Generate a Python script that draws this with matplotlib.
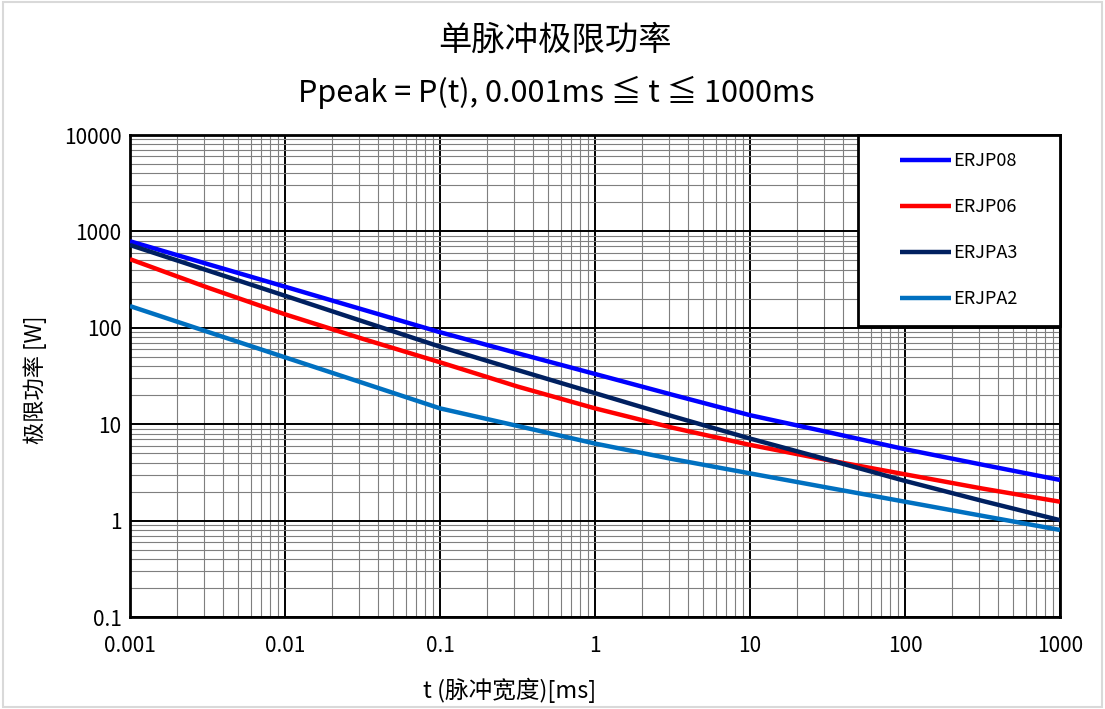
import matplotlib
matplotlib.use("Agg")
import matplotlib.pyplot as plt
from matplotlib.patches import Rectangle
from matplotlib.ticker import LogLocator, FixedLocator, FixedFormatter, NullFormatter

plt.rcParams['font.family'] = ['Noto Sans CJK SC', 'DejaVu Sans']

# pulse width [ms]
t_ms = [0.001, 0.00316, 0.01, 0.0316, 0.1, 0.316, 1, 3.16, 10, 31.6, 100, 316, 1000]

# peak power [W]
erjp08 = [790, 459, 267, 155, 90, 54.5, 33.2, 20.2, 12.4, 8.3, 5.5, 3.8, 2.64]
erjp06 = [515, 262, 138, 77, 43.9, 24.6, 14.6, 9.2, 6.1, 4.25, 3.02, 2.15, 1.57]
erjpa3 = [722, 394, 215, 117, 63.7, 36.5, 21.0, 12.1, 7.1, 4.3, 2.58, 1.6, 1.01]
erjpa2 = [168, 91, 49.4, 26.9, 14.6, 9.6, 6.3, 4.35, 3.09, 2.2, 1.57, 1.12, 0.80]

series_names = ['ERJP08', 'ERJP06', 'ERJPA3', 'ERJPA2']
series_colors = ['#0000FF', '#FF0000', '#002060', '#0070C0']

x_ticks = [0.001, 0.01, 0.1, 1, 10, 100, 1000]
x_labels = ['0.001', '0.01', '0.1', '1', '10', '100', '1000']
y_ticks = [0.1, 1, 10, 100, 1000, 10000]
y_labels = ['0.1', '1', '10', '100', '1000', '10000']

fig = plt.figure(figsize=(11.05, 7.09), dpi=100)
fig.patch.set_facecolor('white')
fig.add_artist(Rectangle((0.003, 0.003), 0.994, 0.994, transform=fig.transFigure,
                         fill=False, edgecolor='#d9d9d9', linewidth=1.5))

ax = fig.add_axes([130 / 1105, 1 - 617 / 709, 930 / 1105, 482 / 709])
ax.set_xscale('log')
ax.set_yscale('log')
ax.set_xlim(0.001, 1000)
ax.set_ylim(0.1, 10000)

for vals, name, col in zip([erjp08, erjp06, erjpa3, erjpa2], series_names, series_colors):
    ax.plot(t_ms, vals, color=col, linewidth=3.2, label=name, zorder=3,
            solid_capstyle='butt')

ax.xaxis.set_major_locator(FixedLocator(x_ticks))
ax.xaxis.set_major_formatter(FixedFormatter(x_labels))
ax.yaxis.set_major_locator(FixedLocator(y_ticks))
ax.yaxis.set_major_formatter(FixedFormatter(y_labels))
ax.xaxis.set_minor_locator(LogLocator(base=10, subs=range(2, 10), numticks=20))
ax.yaxis.set_minor_locator(LogLocator(base=10, subs=range(2, 10), numticks=20))
ax.xaxis.set_minor_formatter(NullFormatter())
ax.yaxis.set_minor_formatter(NullFormatter())

ax.grid(which='major', color='black', linewidth=1.4, zorder=1)
ax.grid(which='minor', color='#7f7f7f', linewidth=0.8, zorder=1)
ax.set_axisbelow(True)
ax.tick_params(which='both', length=0)
ax.tick_params(axis='x', labelsize=15, pad=13)
ax.tick_params(axis='y', labelsize=15, pad=6)
for sp in ax.spines.values():
    sp.set_linewidth(2)
    sp.set_color('black')

# legend box
ax.add_patch(Rectangle((0.783, 0.604), 0.217, 0.396, transform=ax.transAxes,
                       facecolor='white', edgecolor='black', linewidth=2, zorder=4,
                       clip_on=False))
leg = ax.legend(loc='center', bbox_to_anchor=(0.783, 0.604, 0.217, 0.396),
                frameon=False, fontsize=13, labelspacing=1.55, handlelength=2.8,
                handletextpad=0.15)
leg.set_zorder(5)

fig.text(0.5025, 1 - 40 / 709, '单脉冲极限功率', ha='center', va='center', fontsize=24)
fig.text(0.5035, 1 - 92 / 709, 'Ppeak = P(t), 0.001ms ≦ t ≦ 1000ms', ha='center',
         va='center', fontsize=22)
fig.text(510 / 1105, 1 - 690 / 709, 't (脉冲宽度)[ms]', ha='center', va='center',
         fontsize=17)
fig.text(35 / 1105, 1 - 380 / 709, '极限功率 [W]', ha='center', va='center',
         rotation=90, fontsize=16)

fig.savefig('out.png', dpi=100)
